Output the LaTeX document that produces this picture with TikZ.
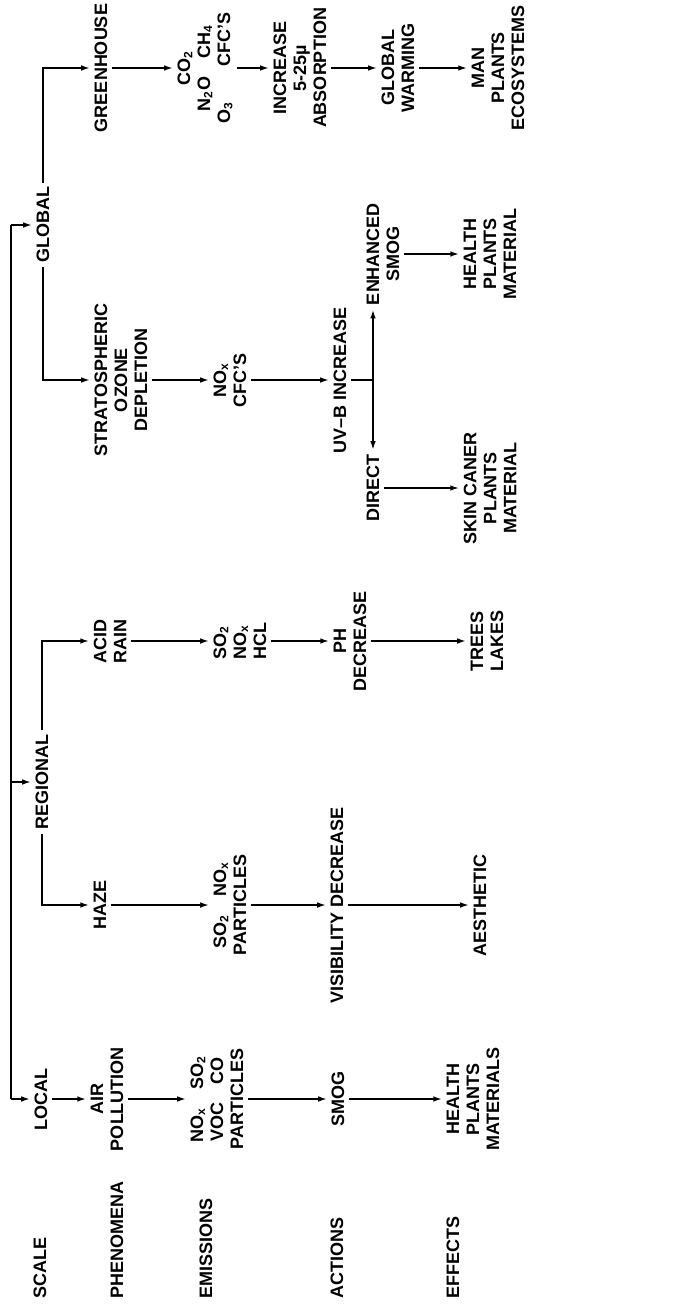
\documentclass[tikz,border=0pt]{standalone}
\usepackage{fontspec}
\setmainfont{Liberation Sans}
\usetikzlibrary{arrows.meta}
\newcommand{\low}[1]{\textsubscript{#1}}
\begin{document}
\begin{tikzpicture}[x=0.5pt,y=0.5pt,
    lbl/.style={rotate=90,font=\bfseries\fontsize{9}{10}\selectfont,align=center,inner sep=2pt},
    rowtitle/.style={lbl,anchor=west},
    arr/.style={line width=1pt,-{Latex[length=4.5pt,width=2.8pt]}},
    ln/.style={line width=1pt}]
  \useasboundingbox (0,0) rectangle (690,-1310);
  % Row titles
  \node[rowtitle] (tscale) at (40,-1303) {SCALE};
  \node[rowtitle] (tphen) at (117,-1303) {PHENOMENA};
  \node[rowtitle] (temis) at (206,-1303) {EMISSIONS};
  \node[rowtitle] (tact) at (337,-1303) {ACTIONS};
  \node[rowtitle] (teff) at (453,-1303) {EFFECTS};
  % Scale
  \node[lbl] (local) at (41,-1099) {LOCAL};
  \node[lbl] (regional) at (42,-782) {REGIONAL};
  \node[lbl] (global) at (43,-225) {GLOBAL};
  \coordinate (trunk) at (11,0);
  \draw[ln] (trunk |- local) -- (trunk |- global);
  \foreach \s in {local,regional,global}
    \draw[arr] (trunk |- \s) -- (\s.north);
  % Local
  \node[lbl] (air) at (107,-1099) {AIR\\POLLUTION};
  \node[lbl] (emloc) at (217,-1099) {NO\low{x}\quad SO\low{2}\\VOC\quad CO\\PARTICLES};
  \node[lbl] (smog) at (338,-1099) {SMOG};
  \node[lbl] (efloc) at (473,-1099) {HEALTH\\PLANTS\\MATERIALS};
  % Regional: haze
  \node[lbl] (haze) at (100,-905) {HAZE};
  \node[lbl] (emhaze) at (230,-905) {SO\low{2}\quad NO\low{x}\\PARTICLES};
  \node[lbl] (vis) at (337,-905) {VISIBILITY DECREASE};
  \node[lbl] (aesth) at (480,-905) {AESTHETIC};
  % Regional: acid rain
  \node[lbl] (acid) at (110,-641) {ACID\\RAIN};
  \node[lbl,align=left] (emacid) at (240,-641) {SO\low{2}\\NO\low{x}\\HCL};
  \node[lbl] (ph) at (350,-641) {PH\\DECREASE};
  \node[lbl] (trees) at (487,-641) {TREES\\LAKES};
  \draw[arr] (regional.west) |- (haze);
  \draw[arr] (regional.east) |- (acid);
  % Global: ozone
  \node[lbl] (strato) at (121,-380) {STRATOSPHERIC\\OZONE\\DEPLETION};
  \node[lbl] (emstrato) at (230,-380) {NO\low{x}\\CFC'S};
  \node[lbl] (uvb) at (340,-380) {UV–B INCREASE};
  \coordinate (j) at (373,-380);
  \node[lbl] (enh) at (383,-254) {ENHANCED\\SMOG};
  \node[lbl] (direct) at (373,-488) {DIRECT};
  \node[lbl] (health) at (490,-254) {HEALTH\\PLANTS\\MATERIAL};
  \node[lbl] (skin) at (490,-488) {SKIN CANER\\PLANTS\\MATERIAL};
  \draw[ln] (uvb) -- (j);
  \draw[arr] (j) -- (j |- enh.west);
  \draw[arr] (j) -- (direct);
  % Global: greenhouse
  \node[lbl] (green) at (101,-68) {GREENHOUSE};
  \node[lbl] (emgreen) at (205,-68) {CO\low{2}\\N\low{2}O\quad CH\low{4}\\O\low{3}\qquad CFC'S};
  \node[lbl] (increase) at (300,-68) {INCREASE\\5-25µ\\ABSORPTION};
  \node[lbl] (warming) at (398,-68) {GLOBAL\\WARMING};
  \node[lbl] (man) at (498,-68) {MAN\\PLANTS\\ECOSYSTEMS};
  \draw[arr] (global.west) |- (strato);
  \draw[arr] (global.east) |- (green);
  % Chains
  \foreach \p/\q in {local/air,air/emloc,emloc/smog,smog/efloc,
      haze/emhaze,emhaze/vis,vis/aesth,
      acid/emacid,emacid/ph,ph/trees,
      strato/emstrato,emstrato/uvb,enh/health,direct/skin,
      green/emgreen,emgreen/increase,increase/warming,warming/man}
    \draw[arr] (\p) -- (\q);
\end{tikzpicture}
\end{document}
